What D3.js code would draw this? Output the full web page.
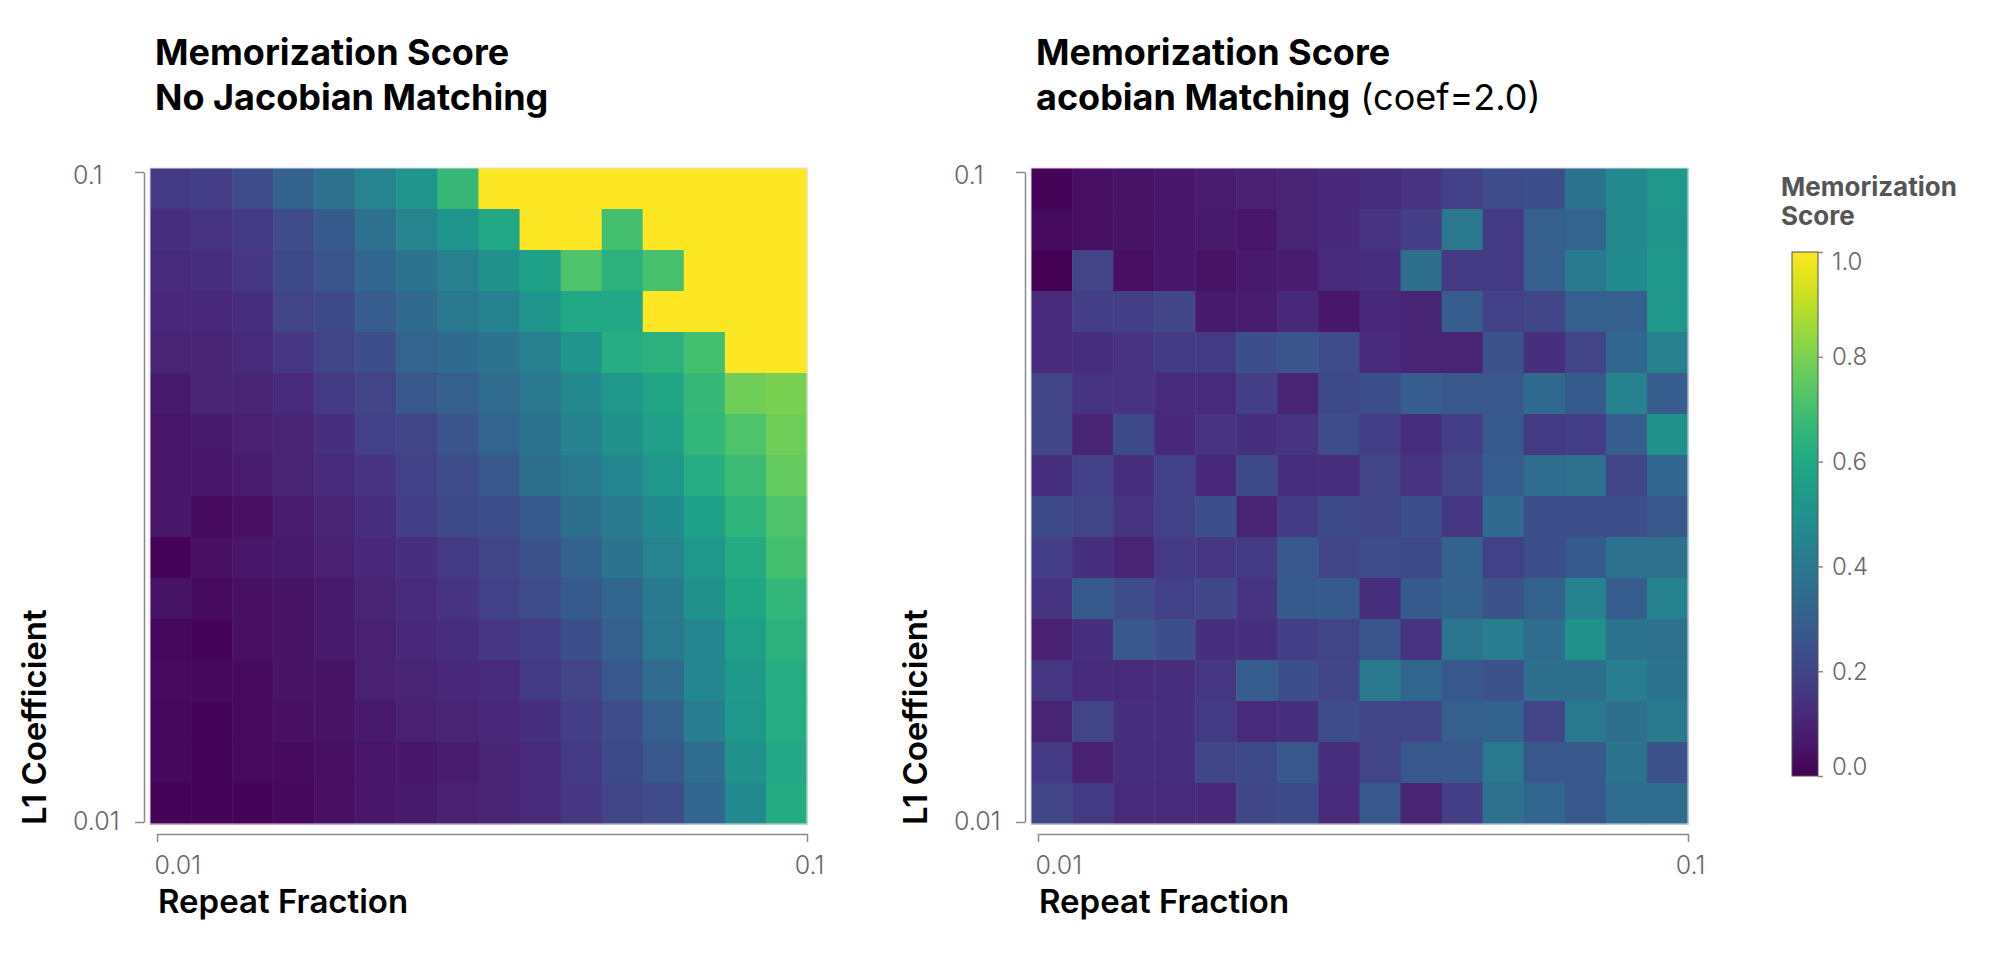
<!DOCTYPE html>
<html lang="en">
<head>
<meta charset="UTF-8">
<title>Memorization Score heatmaps</title>
<script src="https://cdn.jsdelivr.net/npm/d3@7"></script>
<style>
  body { margin: 0; background: #fff; }
  text { font-family: Inter, "Noto Sans", sans-serif; }
</style>
</head>
<body>
<svg></svg>
<script>
// rows go from top (L1 = 0.1) to bottom (L1 = 0.01), columns from repeat fraction 0.01 to 0.1
var noJacobian = [
  [0.17,0.18,0.23,0.31,0.37,0.45,0.52,0.67,1,1,1,1,1,1,1,1],
  [0.13,0.15,0.17,0.23,0.28,0.37,0.45,0.52,0.60,1,1,0.70,1,1,1,1],
  [0.12,0.13,0.16,0.22,0.26,0.33,0.38,0.43,0.50,0.57,0.72,0.64,0.71,1,1,1],
  [0.11,0.11,0.13,0.20,0.22,0.29,0.34,0.40,0.44,0.52,0.60,0.60,1,1,1,1],
  [0.10,0.10,0.12,0.16,0.20,0.24,0.32,0.34,0.38,0.43,0.52,0.62,0.64,0.70,1,1],
  [0.07,0.10,0.10,0.12,0.17,0.20,0.27,0.30,0.35,0.40,0.47,0.53,0.59,0.67,0.78,0.80],
  [0.06,0.07,0.09,0.10,0.14,0.19,0.20,0.26,0.32,0.38,0.44,0.50,0.56,0.66,0.72,0.78],
  [0.06,0.06,0.08,0.10,0.12,0.15,0.19,0.23,0.27,0.36,0.40,0.46,0.53,0.62,0.68,0.76],
  [0.06,0.03,0.04,0.08,0.10,0.13,0.18,0.22,0.24,0.28,0.36,0.41,0.48,0.57,0.65,0.72],
  [0.01,0.04,0.06,0.07,0.09,0.11,0.14,0.17,0.20,0.25,0.31,0.38,0.45,0.53,0.61,0.70],
  [0.05,0.03,0.04,0.05,0.07,0.10,0.12,0.15,0.19,0.23,0.28,0.33,0.41,0.50,0.59,0.66],
  [0.02,0.01,0.04,0.05,0.07,0.09,0.11,0.13,0.16,0.18,0.24,0.30,0.40,0.46,0.56,0.64],
  [0.03,0.02,0.03,0.05,0.05,0.09,0.10,0.11,0.12,0.17,0.20,0.27,0.35,0.46,0.54,0.62],
  [0.02,0.01,0.03,0.04,0.05,0.07,0.09,0.10,0.11,0.14,0.18,0.23,0.30,0.42,0.53,0.62],
  [0.02,0.01,0.03,0.03,0.04,0.06,0.06,0.08,0.10,0.12,0.17,0.22,0.27,0.35,0.50,0.60],
  [0.01,0.01,0.01,0.02,0.04,0.06,0.07,0.09,0.10,0.12,0.16,0.20,0.23,0.33,0.47,0.61]
];

var withJacobian = [
  [0.01,0.04,0.05,0.06,0.08,0.09,0.10,0.11,0.13,0.15,0.19,0.23,0.24,0.38,0.47,0.53],
  [0.03,0.04,0.05,0.06,0.07,0.06,0.10,0.11,0.15,0.18,0.40,0.17,0.30,0.32,0.47,0.52],
  [0.00,0.20,0.04,0.06,0.05,0.07,0.08,0.12,0.13,0.36,0.17,0.17,0.30,0.41,0.48,0.53],
  [0.12,0.18,0.18,0.21,0.07,0.08,0.11,0.06,0.11,0.10,0.29,0.19,0.21,0.30,0.30,0.53],
  [0.12,0.13,0.15,0.17,0.17,0.24,0.26,0.23,0.12,0.10,0.10,0.25,0.14,0.20,0.33,0.43],
  [0.20,0.15,0.15,0.12,0.12,0.18,0.10,0.22,0.24,0.29,0.27,0.27,0.34,0.28,0.44,0.29],
  [0.21,0.10,0.22,0.11,0.15,0.14,0.15,0.23,0.18,0.13,0.18,0.28,0.17,0.18,0.29,0.50],
  [0.14,0.19,0.13,0.19,0.11,0.22,0.13,0.13,0.20,0.15,0.21,0.29,0.35,0.37,0.21,0.33],
  [0.22,0.20,0.15,0.19,0.24,0.10,0.17,0.22,0.21,0.24,0.16,0.34,0.24,0.24,0.24,0.27],
  [0.18,0.14,0.10,0.17,0.16,0.17,0.27,0.20,0.23,0.22,0.31,0.19,0.24,0.28,0.37,0.37],
  [0.15,0.28,0.23,0.19,0.21,0.15,0.28,0.28,0.13,0.28,0.31,0.25,0.31,0.44,0.29,0.44],
  [0.09,0.14,0.27,0.24,0.14,0.14,0.18,0.20,0.26,0.15,0.39,0.42,0.35,0.50,0.38,0.37],
  [0.16,0.12,0.12,0.13,0.16,0.29,0.24,0.21,0.40,0.33,0.27,0.25,0.36,0.36,0.42,0.38],
  [0.10,0.20,0.14,0.14,0.17,0.12,0.14,0.23,0.20,0.20,0.30,0.31,0.20,0.40,0.36,0.41],
  [0.17,0.09,0.13,0.13,0.21,0.22,0.27,0.13,0.20,0.27,0.27,0.40,0.27,0.27,0.38,0.25],
  [0.20,0.17,0.12,0.12,0.11,0.21,0.22,0.12,0.27,0.10,0.18,0.37,0.33,0.27,0.35,0.35]
];

var xTicks = [0.01, 0.1];
var yTicks = [0.01, 0.1];
var legendTicks = [0, 0.2, 0.4, 0.6, 0.8, 1.0];

var W = 1999, H = 956;
var svg = d3.select('svg').attr('width', W).attr('height', H);
svg.append('rect').attr('width', W).attr('height', H).attr('fill', '#fff');

var color = d3.scaleSequential(d3.interpolateViridis).domain([0, 1]);
var axisColor = '#8a8a8a';
var labelColor = '#666';

function drawPanel(left, data, titleParts) {
  var g = svg.append('g');
  var cellX = d3.scaleBand().domain(d3.range(16)).range([left, left + 657]);
  var cellY = d3.scaleBand().domain(d3.range(16)).range([168, 824]);

  var cells = [];
  data.forEach(function (row, r) {
    row.forEach(function (v, c) { cells.push({r: r, c: c, v: v}); });
  });

  g.selectAll('.cell')
    .data(cells)
    .enter()
    .append('rect')
    .attr('class', 'cell')
    .attr('x', function (d) { return cellX(d.c); })
    .attr('y', function (d) { return cellY(d.r); })
    .attr('width', cellX.bandwidth() + 0.5)
    .attr('height', cellY.bandwidth() + 0.5)
    .attr('fill', function (d) { return color(d.v); });

  g.append('rect')
    .attr('x', left).attr('y', 168)
    .attr('width', 657).attr('height', 656)
    .attr('fill', 'none')
    .attr('stroke', '#ddd')
    .attr('stroke-width', 1);

  // x axis
  var x = d3.scaleLog().domain([0.01, 0.1]).range([left + 7, left + 657]);
  var xa = g.append('g')
    .attr('transform', 'translate(0,834)')
    .call(d3.axisBottom(x).tickValues(xTicks).tickFormat(function (d) { return d; }).tickSize(8).tickSizeOuter(0).tickPadding(14));
  xa.select('.domain').attr('stroke', axisColor).attr('stroke-width', 1.5);
  xa.selectAll('.tick line').attr('stroke', axisColor).attr('stroke-width', 1.5);
  xa.selectAll('.tick text')
    .attr('fill', labelColor)
    .style('font-size', '25px')
    .style('font-weight', 300)
    .attr('text-anchor', function (d, i) { return i === 0 ? 'start' : 'middle'; })
    .attr('dx', function (d, i) { return i === 0 ? -3 : 2; });

  // y axis
  var axisX = left - 6;
  var y = d3.scaleLog().domain([0.01, 0.1]).range([822, 172]);
  var ya = g.append('g')
    .attr('transform', 'translate(' + axisX + ',0)')
    .call(d3.axisLeft(y).tickValues(yTicks).tickFormat(function (d) { return d; }).tickSize(9).tickSizeOuter(0));
  ya.select('.domain').attr('stroke', axisColor).attr('stroke-width', 1.5);
  ya.selectAll('.tick line').attr('stroke', axisColor).attr('stroke-width', 1.5);
  ya.selectAll('.tick text')
    .attr('fill', labelColor)
    .style('font-size', '25px')
    .style('font-weight', 300)
    .attr('text-anchor', 'start')
    .attr('x', -71)
    .attr('dy', function (d, i) { return i === 0 ? '0.3em' : '0.45em'; });

  g.append('text')
    .attr('x', left + 8)
    .attr('y', 913)
    .style('font-size', '33px')
    .style('font-weight', 600)
    .attr('fill', '#000')
    .text('Repeat Fraction');

  g.append('text')
    .attr('transform', 'translate(' + (axisX - 98) + ',825) rotate(-90)')
    .style('font-size', '33px')
    .style('font-weight', 600)
    .attr('fill', '#000')
    .text('L1 Coefficient');

  var t = g.append('text')
    .attr('x', left + 5)
    .attr('y', 65)
    .style('font-size', '36px')
    .style('font-weight', 700)
    .attr('fill', '#000');
  t.append('tspan').text(titleParts[0]);
  var t2 = g.append('text')
    .attr('x', left + 5)
    .attr('y', 110)
    .style('font-size', '36px')
    .style('font-weight', 700)
    .attr('fill', '#000');
  t2.append('tspan').text(titleParts[1]);
  if (titleParts[2]) {
    t2.append('tspan').style('font-weight', 400).text(titleParts[2]);
  }
}

drawPanel(150, noJacobian, ['Memorization Score', 'No Jacobian Matching']);
drawPanel(1031, withJacobian, ['Memorization Score', 'acobian Matching', ' (coef=2.0)']);

// colour legend
var defs = svg.append('defs');
var grad = defs.append('linearGradient')
  .attr('id', 'viridis')
  .attr('x1', '0').attr('y1', '1').attr('x2', '0').attr('y2', '0');
d3.range(0, 1.0001, 0.05).forEach(function (t) {
  grad.append('stop').attr('offset', t).attr('stop-color', d3.interpolateViridis(t));
});

var ly = d3.scaleLinear().domain([0, 1]).range([776, 252]);
svg.append('rect')
  .attr('x', 1792).attr('y', ly(1))
  .attr('width', 26).attr('height', ly(0) - ly(1))
  .attr('fill', 'url(#viridis)')
  .attr('stroke', '#555')
  .attr('stroke-width', 1);

var la = svg.append('g')
  .attr('transform', 'translate(1818,0)')
  .call(d3.axisRight(ly).tickValues(legendTicks).tickFormat(d3.format('.1f')).tickSize(5).tickPadding(9));
la.select('.domain').remove();
la.selectAll('.tick line').attr('stroke', axisColor).attr('stroke-width', 1.5);
la.selectAll('.tick text')
  .attr('fill', labelColor)
  .style('font-size', '24px')
  .style('font-weight', 300)
  .attr('dy', function (d) { return d === 1 ? '0.72em' : (d === 0 ? '-0.05em' : '0.33em'); });

svg.append('text')
  .attr('x', 1781).attr('y', 196)
  .style('font-size', '26px').style('font-weight', 700)
  .attr('fill', '#555')
  .text('Memorization');
svg.append('text')
  .attr('x', 1781).attr('y', 225)
  .style('font-size', '26px').style('font-weight', 700)
  .attr('fill', '#555')
  .text('Score');
</script>
</body>
</html>
